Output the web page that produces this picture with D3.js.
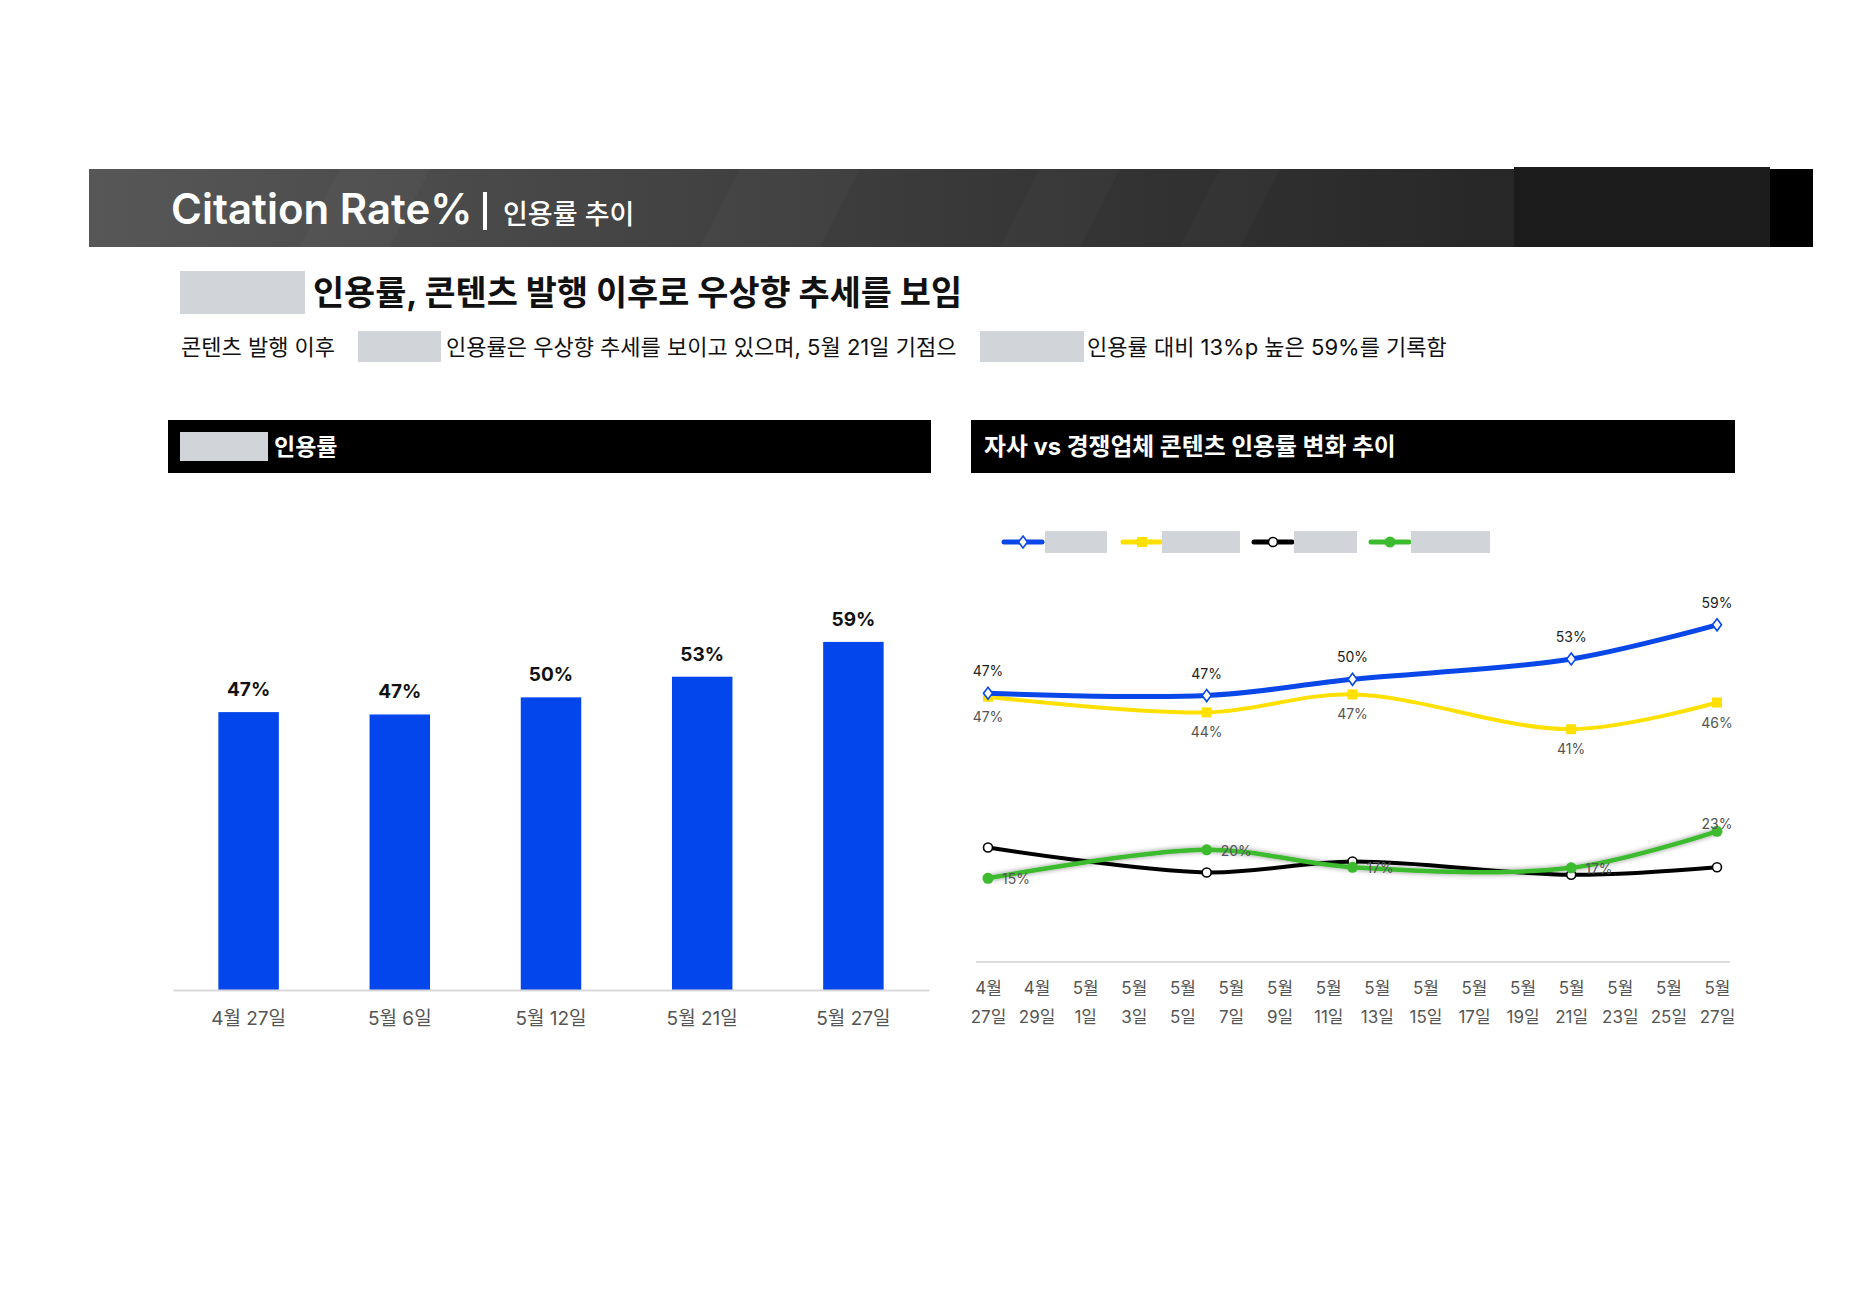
<!DOCTYPE html>
<html lang="ko">
<head>
<meta charset="utf-8">
<script src="https://cdn.jsdelivr.net/npm/d3@7"></script>
<style>
  body { margin: 0; background: #fff; }
  svg { display: block; font-family: Inter, "Noto Sans CJK KR", sans-serif; }
</style>
</head>
<body>
<div id="chart"></div>
<script>
// 막대 차트 데이터
const barDates = ["4월 27일", "5월 6일", "5월 12일", "5월 21일", "5월 27일"];
const barValues = [47.1, 46.7, 49.6, 53.1, 59.0];

// 꺾은선 차트 데이터 (자사 / 경쟁업체 3곳)
const lineDates = ["2025-04-27", "2025-05-06", "2025-05-12", "2025-05-21", "2025-05-27"];
const ourValues = [47.2, 46.8, 49.6, 53.1, 59.0];
const rivalAValues = [46.6, 43.9, 47.0, 41.0, 45.6];
const rivalBValues = [20.6, 16.3, 18.2, 15.9, 17.2];
const rivalCValues = [15.3, 20.2, 17.2, 17.1, 23.4];

// 텍스트
const titleMain = "Citation Rate%";
const titleSub = "인용률 추이";
const headline = "인용률, 콘텐츠 발행 이후로 우상향 추세를 보임";
const descParts = ["콘텐츠 발행 이후", "인용률은 우상향 추세를 보이고 있으며, 5월 21일 기점으", "인용률 대비 13%p 높은 59%를 기록함"];
const leftPanelTitle = "인용률";
const rightPanelTitle = "자사 vs 경쟁업체 콘텐츠 인용률 변화 추이";

const W = 1853, H = 1309;
const MASK = "#d1d5da";

const svg = d3.select("#chart").append("svg")
    .attr("width", W).attr("height", H);
svg.append("rect").attr("width", W).attr("height", H).attr("fill", "#fff");

const defs = svg.append("defs");
const grad = defs.append("linearGradient").attr("id", "hdr").attr("x1", 0).attr("x2", 1);
grad.append("stop").attr("offset", "0%").attr("stop-color", "#575757");
grad.append("stop").attr("offset", "60%").attr("stop-color", "#333");
grad.append("stop").attr("offset", "100%").attr("stop-color", "#1e1e1e");
const shadow = defs.append("filter").attr("id", "glow")
    .attr("x", "-10%").attr("y", "-50%").attr("width", "120%").attr("height", "200%");
shadow.append("feDropShadow").attr("dx", 0).attr("dy", 0)
    .attr("stdDeviation", 2.5).attr("flood-color", "#000").attr("flood-opacity", 0.45);

// 상단 헤더 밴드
svg.append("rect").attr("x", 89).attr("y", 169).attr("width", 1724).attr("height", 78).attr("fill", "url(#hdr)");
// 대각선 줄무늬
[[300, 90], [700, 120], [1000, 80], [1180, 60]].forEach(([x0, w]) => {
    svg.append("path")
        .attr("d", `M${x0 + 40},169 L${x0 + 40 + w},169 L${x0 + w},247 L${x0},247 Z`)
        .attr("fill", "#fff").attr("opacity", 0.025);
});
svg.append("rect").attr("x", 1514).attr("y", 167).attr("width", 256).attr("height", 80).attr("fill", "#1c1c1d");
svg.append("rect").attr("x", 1770).attr("y", 169).attr("width", 43).attr("height", 78).attr("fill", "#000");

svg.append("text").attr("x", 171).attr("y", 224)
    .attr("fill", "#fff").attr("font-size", 42).attr("font-weight", 600)
    .text(titleMain);
svg.append("rect").attr("x", 483).attr("y", 192).attr("width", 4).attr("height", 38).attr("fill", "#fff");
svg.append("text").attr("x", 503).attr("y", 224)
    .attr("fill", "#fff").attr("font-size", 27).attr("font-weight", 500)
    .text(titleSub);

// 헤드라인
svg.append("rect").attr("x", 180).attr("y", 271).attr("width", 125).attr("height", 43).attr("fill", MASK);
svg.append("text").attr("x", 313).attr("y", 305)
    .attr("fill", "#111").attr("font-size", 33.8).attr("font-weight", 700)
    .text(headline);

// 설명 문장
svg.append("text").attr("x", 181).attr("y", 355).attr("fill", "#111").attr("font-size", 22).text(descParts[0]);
svg.append("rect").attr("x", 358).attr("y", 331).attr("width", 83).attr("height", 31).attr("fill", MASK);
svg.append("text").attr("x", 446).attr("y", 355).attr("fill", "#111").attr("font-size", 22).text(descParts[1]);
svg.append("rect").attr("x", 980).attr("y", 331).attr("width", 104).attr("height", 31).attr("fill", MASK);
svg.append("text").attr("x", 1087).attr("y", 355).attr("fill", "#111").attr("font-size", 22).text(descParts[2]);

// 패널 제목
svg.append("rect").attr("x", 168).attr("y", 420).attr("width", 763).attr("height", 53).attr("fill", "#000");
svg.append("rect").attr("x", 180).attr("y", 432).attr("width", 88).attr("height", 29).attr("fill", MASK);
svg.append("text").attr("x", 274).attr("y", 455).attr("fill", "#fff")
    .attr("font-size", 23).attr("font-weight", 700).text(leftPanelTitle);

svg.append("rect").attr("x", 971).attr("y", 420).attr("width", 764).attr("height", 53).attr("fill", "#000");
svg.append("text").attr("x", 984).attr("y", 455).attr("fill", "#fff")
    .attr("font-size", 23.8).attr("font-weight", 700).text(rightPanelTitle);

// ---------- 막대 차트 ----------
const bx = d3.scaleBand().domain(barDates).range([173, 929]).paddingInner(0.6).paddingOuter(0.3);
const by = d3.scaleLinear().domain([0, 70]).range([990, 577]);

const barG = svg.append("g");
barG.selectAll("rect.bar").data(barValues).join("rect")
    .attr("class", "bar")
    .attr("x", (d, i) => bx(barDates[i]))
    .attr("y", d => by(d))
    .attr("width", bx.bandwidth())
    .attr("height", d => by(0) - by(d))
    .attr("fill", "#0346ec");
barG.selectAll("text.val").data(barValues).join("text")
    .attr("class", "val")
    .attr("x", (d, i) => bx(barDates[i]) + bx.bandwidth() / 2)
    .attr("y", d => by(d) - 16)
    .attr("text-anchor", "middle")
    .attr("font-size", 19).attr("font-weight", 700).attr("fill", "#111")
    .text(d => Math.round(d) + "%");

const bAxis = svg.append("g").attr("transform", "translate(0,990)")
    .call(d3.axisBottom(bx).tickSize(0).tickPadding(22));
bAxis.select(".domain").attr("stroke", "#d9d9d9").attr("stroke-width", 2);
bAxis.selectAll("text").attr("font-size", 19).attr("fill", "#555")
    .attr("font-family", "Inter, 'Noto Sans CJK KR', sans-serif");

// ---------- 꺾은선 차트 ----------
const parse = d3.timeParse("%Y-%m-%d");
const dates = lineDates.map(parse);
const lx = d3.scaleTime().domain([dates[0], dates[dates.length - 1]]).range([988, 1717]);
const ly = d3.scaleLinear().domain([0, 70]).range([967, 561]);

const tickDates = d3.timeDay.range(dates[0], d3.timeDay.offset(dates[dates.length - 1], 1), 2);
const lAxis = svg.append("g").attr("transform", "translate(0,962)")
    .call(d3.axisBottom(lx).tickValues(tickDates).tickSize(0).tickFormat(""));
lAxis.select(".domain").attr("d", "M976,0H1730").attr("stroke", "#ddd").attr("stroke-width", 2);
const fmtM = d3.timeFormat("%-m월"), fmtD = d3.timeFormat("%-d일");
const tl = lAxis.selectAll(".tick").append("text")
    .attr("fill", "#555").attr("font-size", 17).attr("text-anchor", "middle")
    .attr("font-family", "Inter, 'Noto Sans CJK KR', sans-serif");
tl.append("tspan").attr("x", 0).attr("y", 32).text(d => fmtM(d));
tl.append("tspan").attr("x", 0).attr("y", 61).text(d => fmtD(d));

const series = [
    {values: ourValues, color: "#0a47e8", width: 5, marker: "diamond", label: "above"},
    {values: rivalAValues, color: "#ffe000", width: 4, marker: "square", label: "below"},
    {values: rivalBValues, color: "#000", width: 4, marker: "circleOpen", label: null},
    {values: rivalCValues, color: "#3dbb2e", width: 4.5, marker: "dot", label: "right"}
];

const line = d3.line()
    .x((d, i) => lx(dates[i]))
    .y(d => ly(d))
    .curve(d3.curveCatmullRom.alpha(0.5));

function drawMarker(g, kind, color) {
    if (kind === "diamond") {
        g.append("path").attr("d", "M0,-6L4.5,0L0,6L-4.5,0Z")
            .attr("fill", "#fff").attr("stroke", color).attr("stroke-width", 1.6);
    } else if (kind === "square") {
        g.append("rect").attr("x", -5).attr("y", -5).attr("width", 10).attr("height", 10).attr("fill", color);
    } else if (kind === "circleOpen") {
        g.append("circle").attr("r", 4.5).attr("fill", "#fff").attr("stroke", color).attr("stroke-width", 1.6);
    } else {
        g.append("circle").attr("r", 5.5).attr("fill", color);
    }
}

// 그리는 순서: 검정, 초록 아래 / 노랑, 파랑 위
[2, 3, 1, 0].forEach(si => {
    const s = series[si];
    const g = svg.append("g");
    g.append("path").datum(s.values)
        .attr("d", line).attr("fill", "none")
        .attr("stroke", s.color).attr("stroke-width", s.width)
        .attr("stroke-linecap", "round")
        .attr("filter", si === 3 ? "url(#glow)" : null);
    s.values.forEach((v, i) => {
        const mg = g.append("g").attr("transform", `translate(${lx(dates[i])},${ly(v)})`);
        drawMarker(mg, s.marker, s.color);
    });
    if (s.label) {
        g.selectAll("text.lbl").data(s.values).join("text")
            .attr("class", "lbl")
            .attr("x", (d, i) => {
                const x = lx(dates[i]);
                if (s.label === "right" && i < s.values.length - 1) return x + 14;
                return x;
            })
            .attr("y", (d, i) => {
                const y = ly(d);
                if (s.label === "above") return y - 17;
                if (s.label === "below") return y + 25;
                return i < s.values.length - 1 ? y + 6 : y - 2;
            })
            .attr("text-anchor", (d, i) => s.label === "right" && i < s.values.length - 1 ? "start" : "middle")
            .attr("font-size", 14)
            .attr("fill", s.label === "above" ? "#222" : "#555")
            .text(d => Math.round(d) + "%");
    }
});

// 범례
const legend = [
    {lx: 1004, box: [1045, 62]},
    {lx: 1123, box: [1162, 78]},
    {lx: 1254, box: [1294, 63]},
    {lx: 1371, box: [1411, 79]}
];
legend.forEach((l, i) => {
    const s = series[i];
    const g = svg.append("g");
    g.append("line").attr("x1", l.lx).attr("x2", l.lx + 38).attr("y1", 542).attr("y2", 542)
        .attr("stroke", s.color).attr("stroke-width", 5).attr("stroke-linecap", "round");
    drawMarker(g.append("g").attr("transform", `translate(${l.lx + 19},542)`), s.marker, s.color);
    g.append("rect").attr("x", l.box[0]).attr("y", 531).attr("width", l.box[1]).attr("height", 22).attr("fill", MASK);
});
</script>
</body>
</html>
